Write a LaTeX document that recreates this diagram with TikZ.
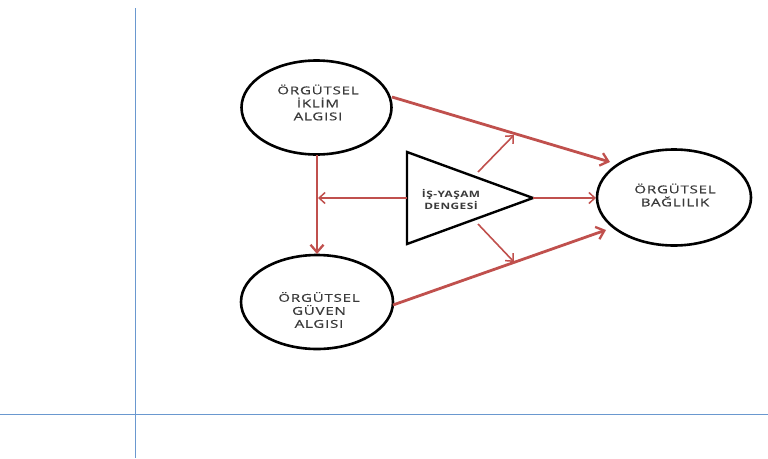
\documentclass[tikz,border=0pt]{standalone}
\usepackage{fontspec}
\setmainfont{Open Sans}
\newfontfamily\widefont[FakeStretch=1.4,LetterSpace=7,FakeBold=0.6]{Open Sans}
\newfontfamily\widebold[FakeStretch=1.35,LetterSpace=5]{Open Sans Bold}
\usetikzlibrary{arrows.meta}
\definecolor{arrowred}{HTML}{C0504D}
\definecolor{axisblue}{HTML}{6A98CF}
\definecolor{txt}{HTML}{3A3A3A}
\tikzset{
  concept/.style={draw=black, line width=2.6pt, fill=white},
  label text/.style={text=txt, align=center, inner sep=0pt, font=\widefont\fontsize{10.8}{13}\selectfont},
  thick arrow/.style={draw=arrowred, line width=2.8pt, -{Straight Barb[length=7.5pt,width=13pt,line width=2.3pt]}},
  thin arrow/.style={draw=arrowred, line width=1.6pt, -{Straight Barb[length=6pt,width=11pt,line width=1.5pt]}},
  axis/.style={draw=axisblue, line width=0.8pt}
}
\begin{document}
\begin{tikzpicture}[x=1pt,y=-1pt]
\useasboundingbox (0,0) rectangle (768,458);
% axes
\coordinate (vt) at (135,8);
\coordinate (vb) at (135,458);
\coordinate (hl) at (0,414);
\coordinate (hr) at (768,414);
\draw[axis] (vt) -- (vb);
\draw[axis] (hl) -- (hr);
% circles
\draw[concept] (316.5,107.5) ellipse [x radius=75, y radius=47];
\draw[concept] (317,302) ellipse [x radius=76, y radius=47];
\draw[concept] (674,197.5) ellipse [x radius=77, y radius=48];
\node[label text] (iklim) at (318,102.5) {ÖRGÜTSEL\\İKLİM\\ALGISI};
\node[label text] (guven) at (319,310) {ÖRGÜTSEL\\GÜVEN\\ALGISI};
\node[label text] (bag) at (675,195) {ÖRGÜTSEL\\BAĞLILIK};
% triangle
\coordinate (ta) at (407,152);
\coordinate (tb) at (407,244);
\coordinate (tc) at (533,198);
\coordinate (tl) at (407,198);
\coordinate (tu) at (478,172);
\coordinate (td) at (478,224);
\draw[black, line width=2.4pt, line join=miter, fill=white] (ta) -- (tc) -- (tb) -- cycle;
\node[text=txt, align=center, inner sep=0pt, font=\widebold\fontsize{8.8}{11.8}\selectfont] (isy) at (451,199.5) {İŞ-YAŞAM\\DENGESİ};
% arrow endpoints
\coordinate (c1b) at (317,155);
\coordinate (c2t) at (317,254);
\coordinate (vm) at (318,198);
\coordinate (c3l) at (596,198);
\coordinate (up) at (514,135);
\coordinate (dn) at (514,262);
\coordinate (c1r) at (392,97);
\coordinate (c3ul) at (610,162);
\coordinate (c2r) at (393,305);
\coordinate (c3dl) at (606,230);
% arrows
\draw[thick arrow] (c1b) -- (c2t);
\draw[thin arrow] (tl) -- (vm);
\draw[thin arrow] (tc) -- (c3l);
\draw[thin arrow] (tu) -- (up);
\draw[thin arrow] (td) -- (dn);
\draw[thick arrow] (c1r) -- (c3ul);
\draw[thick arrow] (c2r) -- (c3dl);
\end{tikzpicture}
\end{document}
